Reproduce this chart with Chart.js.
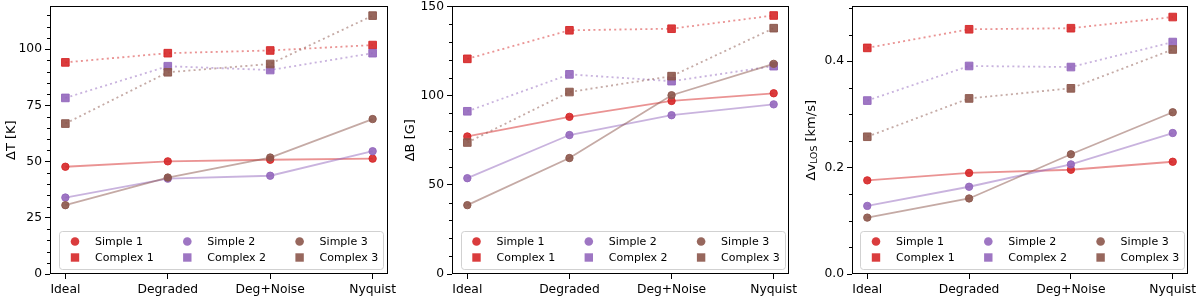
<!DOCTYPE html>
<html>
<head>
<meta charset="utf-8">
<title>Error vs degradation level</title>
<script src="https://cdn.jsdelivr.net/npm/chart.js"></script>
<style>
  body { margin: 0; background: #ffffff; width: 1200px; height: 296px; position: relative; overflow: hidden; }
  canvas { position: absolute; top: 0; }
</style>
</head>
<body>
<canvas id="panelT" width="400" height="296" style="left:0px;width:400px;height:296px"></canvas>
<canvas id="panelB" width="400" height="296" style="left:400px;width:400px;height:296px"></canvas>
<canvas id="panelV" width="400" height="296" style="left:800px;width:400px;height:296px"></canvas>
<script>
// ---- data ----
const categories = ['Ideal', 'Degraded', 'Deg+Noise', 'Nyquist'];
const seriesNames = ['Simple 1', 'Complex 1', 'Simple 2', 'Complex 2', 'Simple 3', 'Complex 3'];

// ΔT [K]
const tSimple1  = [47.7, 50.1, 50.8, 51.3];
const tComplex1 = [94.1, 98.2, 99.4, 101.8];
const tSimple2  = [34.0, 42.4, 43.7, 54.6];
const tComplex2 = [78.3, 92.4, 90.7, 98.2];
const tSimple3  = [30.6, 42.9, 51.8, 68.9];
const tComplex3 = [66.9, 89.7, 93.4, 114.9];
const tTicks = [0, 25, 50, 75, 100];

// ΔB [G]
const bSimple1  = [77.1, 88.1, 97.0, 101.3];
const bComplex1 = [120.6, 136.6, 137.5, 144.9];
const bSimple2  = [53.7, 77.9, 89.0, 95.1];
const bComplex2 = [91.2, 111.9, 108.1, 116.5];
const bSimple3  = [38.6, 65.0, 100.2, 117.8];
const bComplex3 = [73.7, 102.0, 110.9, 137.8];
const bTicks = [0, 50, 100, 150];

// Δv_LOS [km/s]
const vSimple1  = [0.176, 0.190, 0.196, 0.211];
const vComplex1 = [0.425, 0.460, 0.462, 0.483];
const vSimple2  = [0.128, 0.164, 0.206, 0.265];
const vComplex2 = [0.326, 0.391, 0.389, 0.436];
const vSimple3  = [0.106, 0.142, 0.225, 0.304];
const vComplex3 = [0.258, 0.330, 0.349, 0.422];
const vTicks = [0.0, 0.2, 0.4];

// ---- styling ----
const FONT = "'DejaVu Sans', sans-serif";
const rgbs = ['214,39,40', '214,39,40', '148,103,189', '148,103,189', '140,86,75', '140,86,75'];

// black frame on all four sides
const framePlugin = {
  id: 'frame',
  afterDatasetsDraw(chart) {
    const a = chart.chartArea, ctx = chart.ctx;
    ctx.save();
    ctx.strokeStyle = '#000';
    ctx.lineWidth = 1;
    ctx.strokeRect(Math.round(a.left) + 0.5, Math.round(a.top) + 0.5,
                   Math.round(a.right - a.left) - 1, Math.round(a.bottom - a.top) - 1);
    ctx.restore();
  }
};

// matplotlib-like legend box inside the axes, 3 columns
const legendPlugin = {
  id: 'boxLegend',
  afterDraw(chart) {
    const ctx = chart.ctx, a = chart.chartArea;
    const w = 324, h = 38;
    const bx = (a.left + a.right) / 2 + 2 - w / 2;
    const by = a.bottom - 5 - h;
    ctx.save();
    ctx.fillStyle = 'rgba(255,255,255,0.8)';
    ctx.strokeStyle = 'rgba(204,204,204,0.9)';
    ctx.lineWidth = 1;
    ctx.beginPath();
    ctx.roundRect(Math.round(bx) + 0.5, Math.round(by) + 0.5, w, h, 3);
    ctx.fill();
    ctx.stroke();
    ctx.font = '11px ' + FONT;
    ctx.textBaseline = 'middle';
    ctx.textAlign = 'left';
    chart.data.datasets.forEach((ds, i) => {
      const col = Math.floor(i / 2), row = i % 2;
      const mx = bx + 16 + col * 112.3;
      const my = by + 10.5 + row * 16;
      ctx.fillStyle = ds.pointBackgroundColor;
      if (ds.pointStyle === 'rect') {
        ctx.fillRect(mx - 4.2, my - 4.2, 8.4, 8.4);
      } else {
        ctx.beginPath();
        ctx.arc(mx, my, 4.3, 0, Math.PI * 2);
        ctx.fill();
      }
      ctx.fillStyle = '#000';
      ctx.fillText(ds.label, mx + 20, my + 0.5);
    });
    ctx.restore();
  }
};

function makePanel(id, series, yMax, majorTicks, minorStep, fmt, titleParts, titleX, axisWidth, rightPad) {
  // minor tick marks on the y axis
  const minorPlugin = {
    id: 'minorTicks',
    afterDraw(chart) {
      const y = chart.scales.y, ctx = chart.ctx, left = Math.round(chart.chartArea.left);
      ctx.save();
      ctx.strokeStyle = '#000';
      ctx.lineWidth = 1;
      for (let k = 0; k * minorStep <= y.max + 1e-9; k++) {
        const v = k * minorStep;
        if (majorTicks.some(m => Math.abs(m - v) < 1e-9)) continue;
        const py = Math.round(y.getPixelForValue(v)) + 0.5;
        ctx.beginPath();
        ctx.moveTo(left - 3, py);
        ctx.lineTo(left, py);
        ctx.stroke();
      }
      ctx.restore();
    }
  };

  // y-axis title with optional subscript piece
  const yTitlePlugin = {
    id: 'yTitle',
    afterDraw(chart) {
      const ctx = chart.ctx, a = chart.chartArea, size = 13;
      ctx.save();
      ctx.translate(titleX, (a.top + a.bottom) / 2);
      ctx.rotate(-Math.PI / 2);
      ctx.fillStyle = '#000';
      ctx.textBaseline = 'middle';
      ctx.textAlign = 'left';
      const widths = titleParts.map(p => {
        ctx.font = (size * (p.rel || 1)) + 'px ' + FONT;
        return ctx.measureText(p.text).width;
      });
      let x = -widths.reduce((s, w) => s + w, 0) / 2;
      titleParts.forEach((p, i) => {
        ctx.font = (size * (p.rel || 1)) + 'px ' + FONT;
        ctx.fillText(p.text, x, p.dy || 0);
        x += widths[i];
      });
      ctx.restore();
    }
  };

  const datasets = series.map((vals, i) => {
    const complex = i % 2 === 1;
    return {
      label: seriesNames[i],
      data: vals.map((v, j) => ({ x: j, y: v })),
      borderColor: 'rgba(' + rgbs[i] + ',0.5)',
      borderWidth: 1.8,
      borderDash: complex ? [2, 3.2] : [],
      pointStyle: complex ? 'rect' : 'circle',
      pointRadius: complex ? 5.4 : 3.7,
      pointBackgroundColor: 'rgba(' + rgbs[i] + ',0.9)',
      pointBorderColor: 'rgba(' + rgbs[i] + ',0.9)',
      pointBorderWidth: 1,
      tension: 0,
      order: series.length - i
    };
  });

  return new Chart(document.getElementById(id), {
    type: 'line',
    data: { datasets },
    plugins: [framePlugin, minorPlugin, yTitlePlugin, legendPlugin],
    options: {
      responsive: false,
      animation: false,
      devicePixelRatio: 1,
      layout: { padding: { top: 5, right: rightPad, bottom: 0, left: 0 } },
      scales: {
        x: {
          type: 'linear',
          min: -0.15,
          max: 3.15,
          afterBuildTicks: s => { s.ticks = categories.map((c, i) => ({ value: i })); },
          afterFit: s => { s.height = 22; s.paddingLeft = 0; s.paddingRight = 0; },
          grid: { drawOnChartArea: false, drawTicks: true, tickLength: 5, color: '#000', lineWidth: 1 },
          border: { display: false },
          ticks: {
            autoSkip: false, maxRotation: 0, padding: 3, color: '#000',
            font: { family: FONT, size: 12.3 },
            callback: v => categories[v]
          }
        },
        y: {
          type: 'linear',
          min: 0,
          max: yMax,
          afterBuildTicks: s => { s.ticks = majorTicks.map(v => ({ value: v })); },
          afterFit: s => { s.width = axisWidth; s.paddingTop = 0; s.paddingBottom = 0; },
          grid: { drawOnChartArea: false, drawTicks: true, tickLength: 5, color: '#000', lineWidth: 1 },
          border: { display: false },
          ticks: {
            padding: 3, color: '#000',
            font: { family: FONT, size: 12.3 },
            callback: v => fmt(v)
          }
        }
      },
      plugins: {
        legend: { display: false },
        tooltip: { enabled: false }
      }
    }
  });
}

makePanel('panelT',
  [tSimple1, tComplex1, tSimple2, tComplex2, tSimple3, tComplex3],
  119, tTicks, 5, v => String(v),
  [{ text: 'ΔT [K]' }], 12, 50, 12);

makePanel('panelB',
  [bSimple1, bComplex1, bSimple2, bComplex2, bSimple3, bComplex3],
  150, bTicks, 10, v => String(v),
  [{ text: 'ΔB [G]' }], 11, 52, 11);

makePanel('panelV',
  [vSimple1, vComplex1, vSimple2, vComplex2, vSimple3, vComplex3],
  0.503, vTicks, 0.05, v => v.toFixed(1),
  [{ text: 'Δv' }, { text: 'LOS', rel: 0.72, dy: 3 }, { text: ' [km/s]' }], 12, 52, 12);
</script>
</body>
</html>
